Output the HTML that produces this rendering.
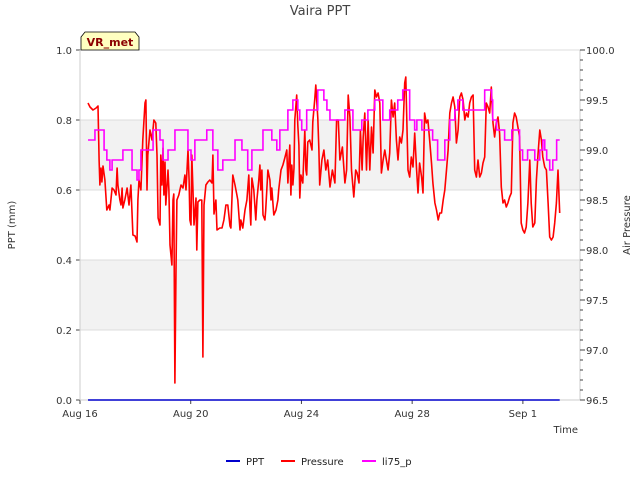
<!DOCTYPE html>
<html><head><meta charset="utf-8"><style>
body{margin:0;background:#fff;width:640px;height:480px;overflow:hidden;font-family:"DejaVu Sans","Liberation Sans",sans-serif;}
svg text{font-family:"DejaVu Sans","Liberation Sans",sans-serif;}
</style></head><body>
<svg id="chart" width="640" height="480" xmlns="http://www.w3.org/2000/svg">
<rect x="80" y="50" width="500" height="350" fill="#fff"/>
<g id="bands"></g>
<g id="axes"></g>
<g id="series"></g>
<text x="320" y="15" text-anchor="middle" font-size="13" fill="#444">Vaira PPT</text>
<text x="15" y="225" text-anchor="middle" font-size="10" fill="#333" transform="rotate(-90 15 225)">PPT (mm)</text>
<text x="630" y="225" text-anchor="middle" font-size="10" fill="#333" transform="rotate(-90 630 225)">Air Pressure</text>
<text x="578" y="433" text-anchor="end" font-size="10" fill="#333">Time</text>
<g>
<path d="M81,50 L81,37 L85,32 L135,32 L139,37 L139,50 Z" fill="#ffffc0" stroke="#000" stroke-width="0.8"/>
<text x="110" y="46" text-anchor="middle" font-size="11" font-weight="bold" fill="#8b0000">VR_met</text>
</g>
<g>
<g><line x1="226" y1="461" x2="240" y2="461" stroke="#0000cc" stroke-width="2"/><text x="246" y="465" font-size="10" fill="#222">PPT</text></g>
<g><line x1="281" y1="461" x2="295" y2="461" stroke="#ff0000" stroke-width="2"/><text x="301" y="465" font-size="10" fill="#222">Pressure</text></g>
<g><line x1="362" y1="461" x2="376" y2="461" stroke="#ff00ff" stroke-width="2"/><text x="382" y="465" font-size="10" fill="#222">li75_p</text></g>
</g>
</svg>
<script>
const xTickLabels=["Aug 16","Aug 20","Aug 24","Aug 28","Sep 1"];
const xTickDays=[0,4,8,12,16];
const leftTicks=[0,0.2,0.4,0.6,0.8,1.0];
const rightTicks=[96.5,97.0,97.5,98.0,98.5,99.0,99.5,100.0];
const pptDays=[0.29,17.33];
const pptValues=[0,0];
const pressDays=[0.29,0.36,0.47,0.58,0.65,0.69,0.72,0.76,0.79,0.83,0.90,0.97,1.05,1.08,1.16,1.23,1.30,1.34,1.37,1.44,1.48,1.52,1.55,1.62,1.70,1.77,1.84,1.91,1.99,2.06,2.09,2.13,2.20,2.27,2.35,2.38,2.42,2.45,2.53,2.60,2.67,2.74,2.78,2.82,2.89,2.92,2.96,3.00,3.03,3.07,3.10,3.18,3.21,3.25,3.32,3.36,3.39,3.43,3.47,3.50,3.57,3.65,3.72,3.79,3.83,3.90,3.94,3.97,4.01,4.04,4.08,4.12,4.19,4.22,4.26,4.33,4.40,4.44,4.48,4.55,4.62,4.69,4.77,4.80,4.84,4.91,4.95,5.05,5.13,5.20,5.27,5.34,5.42,5.45,5.52,5.60,5.67,5.70,5.78,5.81,5.88,5.96,6.03,6.10,6.14,6.17,6.21,6.28,6.35,6.39,6.46,6.50,6.53,6.57,6.61,6.68,6.71,6.79,6.86,6.90,6.93,7.00,7.08,7.15,7.18,7.26,7.33,7.40,7.47,7.51,7.55,7.58,7.62,7.65,7.69,7.73,7.76,7.83,7.87,7.91,7.94,7.98,8.05,8.12,8.16,8.19,8.23,8.30,8.38,8.41,8.48,8.52,8.59,8.63,8.66,8.74,8.81,8.88,8.95,9.03,9.12,9.21,9.27,9.33,9.39,9.48,9.57,9.63,9.69,9.75,9.81,9.89,9.96,10.01,10.08,10.13,10.19,10.23,10.29,10.35,10.41,10.47,10.53,10.59,10.65,10.71,10.77,10.83,10.89,10.95,11.01,11.07,11.13,11.19,11.25,11.31,11.37,11.43,11.49,11.55,11.61,11.67,11.73,11.77,11.82,11.85,11.91,11.97,12.03,12.09,12.16,12.21,12.27,12.34,12.39,12.45,12.51,12.57,12.64,12.70,12.75,12.82,12.88,12.94,13.00,13.06,13.12,13.18,13.24,13.30,13.36,13.42,13.48,13.54,13.60,13.66,13.72,13.78,13.84,13.90,13.96,14.02,14.08,14.14,14.20,14.26,14.32,14.38,14.44,14.50,14.56,14.62,14.68,14.74,14.80,14.86,14.92,14.98,15.04,15.10,15.16,15.22,15.28,15.34,15.40,15.46,15.52,15.58,15.64,15.70,15.76,15.82,15.88,15.94,16.00,16.06,16.12,16.18,16.25,16.30,16.36,16.43,16.49,16.55,16.61,16.67,16.72,16.79,16.85,16.91,16.97,17.03,17.09,17.15,17.21,17.27,17.33];
const pressValues=[99.47,99.43,99.40,99.42,99.44,98.90,98.65,98.82,98.68,98.84,98.70,98.40,98.45,98.40,98.62,98.60,98.55,98.82,98.65,98.50,98.45,98.62,98.42,98.50,98.62,98.45,98.65,98.15,98.14,98.08,98.50,98.70,98.60,99.10,99.47,99.50,98.60,98.95,99.20,99.10,99.30,99.27,98.95,98.32,98.25,98.95,98.65,99.02,98.55,98.88,98.45,98.80,98.60,98.05,97.85,98.50,98.56,96.67,97.80,98.50,98.55,98.65,98.62,98.75,98.60,99.00,98.70,98.30,98.25,98.95,98.62,98.25,98.52,98.00,98.48,98.50,98.50,96.93,98.45,98.65,98.68,98.70,98.67,98.95,98.36,98.50,98.20,98.22,98.22,98.30,98.45,98.45,98.24,98.22,98.75,98.65,98.55,98.50,98.20,98.30,98.22,98.40,98.50,98.75,98.40,98.25,98.72,98.60,98.30,98.50,98.70,98.85,98.60,98.80,98.35,98.30,98.40,98.80,98.70,98.50,98.62,98.35,98.40,98.50,98.60,98.80,98.85,98.92,99.00,98.67,98.90,99.05,98.55,98.85,98.65,98.82,99.30,99.55,99.25,99.05,98.52,98.75,98.67,99.20,98.80,98.75,99.08,99.10,99.00,99.28,99.50,99.65,99.32,99.00,98.65,98.90,99.00,98.80,98.90,98.63,98.80,98.67,99.30,99.30,98.90,99.03,98.67,98.80,99.55,99.33,98.80,98.53,98.80,98.77,98.67,99.20,98.80,99.13,99.37,98.80,99.30,98.80,99.23,98.97,99.60,99.53,99.57,99.47,98.77,98.90,99.00,98.90,98.80,98.97,99.50,99.33,99.47,99.10,98.90,99.13,99.07,99.20,99.67,99.73,99.13,98.80,98.73,98.93,98.83,99.17,98.80,98.57,98.87,98.73,98.57,99.37,99.27,99.30,99.07,98.87,98.67,98.47,98.40,98.30,98.37,98.37,98.50,98.60,98.80,99.00,99.37,99.47,99.53,99.43,99.07,99.20,99.53,99.57,99.50,99.30,99.37,99.33,99.47,99.53,99.55,98.80,98.73,98.90,98.73,98.77,98.87,98.93,99.47,99.43,99.37,99.63,99.27,99.13,99.27,99.33,99.17,98.63,98.47,98.50,98.43,98.47,98.53,98.57,99.27,99.37,99.33,99.23,99.13,98.27,98.20,98.17,98.23,98.47,98.90,98.47,98.23,98.27,98.70,98.97,99.20,99.10,98.93,98.83,98.80,98.47,98.13,98.10,98.13,98.27,98.47,98.80,98.37];
const liDays=[0.29,0.54,0.87,0.97,1.08,1.16,1.55,1.88,2.06,2.13,2.20,2.64,2.89,3.00,3.18,3.43,3.90,4.01,4.15,4.58,4.80,4.98,5.16,5.60,5.85,6.06,6.21,6.61,6.93,7.11,7.22,7.51,7.69,7.87,7.94,8.01,8.19,8.59,8.81,8.92,9.03,9.57,9.86,10.18,10.40,10.65,10.94,11.19,11.48,11.66,11.91,12.09,12.17,12.35,12.74,12.92,13.18,13.36,13.54,13.65,13.83,14.62,14.87,14.91,15.05,15.34,15.60,15.88,15.99,16.17,16.43,16.61,16.72,16.79,16.86,16.97,17.08,17.22,17.33];
const liValues=[99.1,99.2,99.0,98.9,98.8,98.9,99.0,98.8,98.7,98.8,99.0,99.2,99.1,98.9,99.0,99.2,99.0,98.9,99.1,99.2,99.0,98.8,98.9,99.1,99.0,98.8,99.0,99.2,99.1,99.0,99.2,99.4,99.5,99.4,99.3,99.2,99.4,99.6,99.5,99.4,99.3,99.4,99.2,99.3,99.4,99.5,99.3,99.4,99.5,99.6,99.3,99.2,99.3,99.2,99.1,98.9,99.1,99.3,99.4,99.5,99.4,99.6,99.5,99.3,99.2,99.1,99.2,99.0,98.9,99.0,98.9,99.0,99.1,99.0,98.9,98.8,98.9,99.1,99.1];

const NS="http://www.w3.org/2000/svg";
const X0=80,X1=580,Y0=400,Y1=50;
function xs(d){return X0+d*27.68;}
function yl(v){return Y0-(v/1.0)*(Y0-Y1);}
function yr(p){return Y0-(p-96.5)/3.5*(Y0-Y1);}
function mk(tag,attrs,parent){const e=document.createElementNS(NS,tag);for(const k in attrs)e.setAttribute(k,attrs[k]);parent.appendChild(e);return e;}
const bands=document.getElementById('bands'),axes=document.getElementById('axes'),series=document.getElementById('series');
[[0.2,0.4],[0.6,0.8]].forEach(b=>{
 const r=mk('rect',{x:X0,y:yl(b[1]),width:X1-X0,height:yl(b[0])-yl(b[1]),fill:'#f2f2f2'},bands);
 
 
});
leftTicks.forEach(v=>{
 const l=mk('line',{x1:X0,x2:X1,y1:yl(v),y2:yl(v),stroke:'#dcdcdc','stroke-width':1},bands);
 
 
 mk('line',{x1:X0-4,x2:X0,y1:yl(v),y2:yl(v),stroke:'#444'},axes);
 const t=mk('text',{x:X0-8,y:yl(v)+4,'text-anchor':'end','font-size':10,fill:'#333'},axes);
 t.textContent=v.toFixed(1);
 
 
});
mk('line',{x1:X0,x2:X0,y1:Y1,y2:Y0,stroke:'#ccc'},axes);
mk('line',{x1:X1,x2:X1,y1:Y1,y2:Y0,stroke:'#ccc'},axes);
for(let i=0;i<=35;i++){const p=96.5+i*0.1;const maj=(i%5===0);
 mk('line',{x1:X1,x2:X1+(maj?5:3),y1:yr(p),y2:yr(p),stroke:'#444'},axes);}
rightTicks.forEach(p=>{
 const t=mk('text',{x:X1+6,y:yr(p)+4,'font-size':10,fill:'#333'},axes);
 t.textContent=p.toFixed(1);
 
 
});
xTickDays.forEach((d,i)=>{
 mk('line',{x1:xs(d),x2:xs(d),y1:Y0,y2:Y0+4,stroke:'#444'},axes);
 const t=mk('text',{x:xs(d),y:Y0+17,'text-anchor':'middle','font-size':10,fill:'#333'},axes);
 t.textContent=xTickLabels[i];
 
 
});
mk('line',{x1:X0,x2:X1,y1:Y0,y2:Y0,stroke:'#ccc'},axes);
// pressure
let d='';pressDays.forEach((t,i)=>{d+=(i?'L':'M')+xs(t).toFixed(1)+','+yr(pressValues[i]).toFixed(1);});
const pp=mk('path',{d:d,fill:'none',stroke:'#ff0000','stroke-width':1.6,'stroke-linejoin':'round'},series);


// li75 step
let d2='';liDays.forEach((t,i)=>{const x=xs(t),y=yr(liValues[i]);
 if(i===0)d2+='M'+x+','+y;else{d2+='L'+x+','+yr(liValues[i-1])+'L'+x+','+y;}});
const lp=mk('path',{d:d2,fill:'none',stroke:'#ff00ff','stroke-width':1.6},series);


// ppt
let d3='';pptDays.forEach((t,i)=>{d3+=(i?'L':'M')+xs(t)+','+yl(pptValues[i]);});
const bp=mk('path',{d:d3,fill:'none',stroke:'#0000cc','stroke-width':1.6},series);


</script>
</body></html>
